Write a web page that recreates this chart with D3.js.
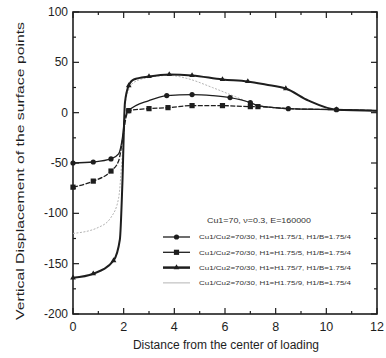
<!DOCTYPE html>
<html>
<head>
<meta charset="utf-8">
<script src="https://cdn.jsdelivr.net/npm/d3@7"></script>
<style>
  body { margin: 0; background: #fff; }
  svg { display: block; font-family: Arial, "Liberation Sans", sans-serif; }
</style>
</head>
<body>
<div id="chart"></div>
<script>
// values: [distance, displacement, hasMarker]
const seriesCircle = [
  [0, -50, 1], [0.8, -49, 1], [1.5, -46, 1], [1.8, -41, 0], [1.95, -25, 0], [2.05, -5, 0],
  [2.2, 2, 1], [3, 12, 0], [3.7, 17, 1], [4.7, 18, 1], [5.5, 17, 0], [6.2, 15, 1], [7, 10, 1],
  [7.3, 7, 0], [8.5, 4, 1], [10.4, 3, 1], [12, 2, 0]
];
const seriesSquare = [
  [0, -74, 1], [0.8, -68, 1], [1.5, -58, 1], [1.8, -48, 0], [1.95, -28, 0], [2.1, -4, 0],
  [2.2, 2, 1], [3, 4, 1], [3.75, 5, 1], [4.7, 7, 1], [5.9, 7, 1], [7, 6, 1], [7.3, 6, 1],
  [8.5, 4, 0], [10.4, 3, 0], [12, 2, 0]
];
const seriesDash = [
  [0, -164, 1], [0.8, -160, 1], [1.6, -147, 1], [1.85, -126, 0], [1.95, -70, 0], [2.05, 10, 0],
  [2.2, 27, 1], [2.4, 33, 0], [3, 36, 1], [3.8, 38, 1], [4.7, 37, 1], [5.9, 33, 1], [6.9, 31, 1],
  [7.6, 28, 0], [8.4, 24, 1], [9.3, 12, 0], [10.4, 3, 1], [12, 2, 0]
];
const seriesThin = [
  [0, -120, 0], [1, -114, 0], [1.5, -104, 0], [1.8, -85, 0], [1.95, -40, 0], [2.1, 15, 0],
  [2.4, 30, 0], [3, 35, 0], [3.8, 37, 0], [4.5, 34, 0], [5.5, 25, 0], [6.4, 16, 0], [7.2, 8, 0],
  [8.5, 4, 0], [10.4, 3, 0], [12, 2, 0]
];

const legendNote = 'Cu1=70, \u03bd=0.3, E=160000';
const legendLabels = [
  'Cu1/Cu2=70/30, H1=H1.75/1, H1/B=1.75/4',
  'Cu1/Cu2=70/30, H1=H1.75/5, H1/B=1.75/4',
  'Cu1/Cu2=70/30, H1=H1.75/7, H1/B=1.75/4',
  'Cu1/Cu2=70/30, H1=H1.75/9, H1/B=1.75/4'
];
const xTicks = [0, 2, 4, 6, 8, 10, 12];
const yTicks = [100, 50, 0, -50, -100, -150, -200];

const width = 386, height = 358;
const margin = {top: 12, right: 9, bottom: 44, left: 73};
const ink = '#1e1e1e';

const svg = d3.select('#chart').append('svg')
  .attr('width', width)
  .attr('height', height);

const x = d3.scaleLinear().domain([0, 12]).range([margin.left, width - margin.right]);
const y = d3.scaleLinear().domain([-200, 100]).range([height - margin.bottom, margin.top]);

// frame
svg.append('rect')
  .attr('x', x(0)).attr('y', y(100))
  .attr('width', x(12) - x(0)).attr('height', y(-200) - y(100))
  .attr('fill', 'none').attr('stroke', ink).attr('stroke-width', 1.6);

// inward ticks on all four sides
const ticks = svg.append('g').attr('stroke', ink).attr('stroke-width', 1.2);
d3.range(0, 12.01, 1).forEach(v => {
  const len = v % 2 === 0 ? 6 : 3;
  ticks.append('line').attr('x1', x(v)).attr('x2', x(v)).attr('y1', y(-200)).attr('y2', y(-200) - len);
  ticks.append('line').attr('x1', x(v)).attr('x2', x(v)).attr('y1', y(100)).attr('y2', y(100) + len);
});
d3.range(-200, 100.01, 25).forEach(v => {
  const len = v % 50 === 0 ? 6 : 3;
  ticks.append('line').attr('y1', y(v)).attr('y2', y(v)).attr('x1', x(0)).attr('x2', x(0) + len);
  ticks.append('line').attr('y1', y(v)).attr('y2', y(v)).attr('x1', x(12)).attr('x2', x(12) - len);
});

// tick labels
svg.append('g').selectAll('text').data(xTicks).join('text')
  .attr('x', d => x(d)).attr('y', height - margin.bottom + 17)
  .attr('text-anchor', 'middle').attr('font-size', 12.5).attr('fill', ink)
  .text(d => d);
svg.append('g').selectAll('text').data(yTicks).join('text')
  .attr('x', x(0) - 5).attr('y', d => y(d) + 4)
  .attr('text-anchor', 'end').attr('font-size', 12).attr('fill', ink)
  .text(d => d);

// axis titles
svg.append('text')
  .attr('x', 226).attr('y', 349)
  .attr('text-anchor', 'middle').attr('font-size', 12).attr('fill', ink)
  .text('Distance from the center of loading');
svg.append('text')
  .attr('transform', `translate(24,${(y(100) + y(-200)) / 2 + 8}) rotate(-90)`)
  .attr('text-anchor', 'middle').attr('font-size', 11.5).attr('fill', ink)
  .attr('textLength', 298).attr('lengthAdjust', 'spacingAndGlyphs')
  .text('Vertical Displacement of the surface points');

const line = d3.line()
  .x(d => x(d[0]))
  .y(d => y(d[1]))
  .curve(d3.curveMonotoneX);

const styles = [
  {data: seriesCircle, stroke: ink, width: 1.3, dash: null, marker: 'circle'},
  {data: seriesSquare, stroke: ink, width: 1.3, dash: '5,1.5', marker: 'square'},
  {data: seriesDash, stroke: ink, width: 2, dash: null, marker: 'tri'},
  {data: seriesThin, stroke: '#b4b4b4', width: 1, dash: '2,1.5', marker: null}
];

function drawMarker(g, type, cx, cy) {
  if (type === 'circle') {
    g.append('circle').attr('cx', cx).attr('cy', cy).attr('r', 2.6).attr('fill', ink);
  } else if (type === 'square') {
    g.append('rect').attr('x', cx - 2.6).attr('y', cy - 2.6).attr('width', 5.2).attr('height', 5.2).attr('fill', ink);
  } else if (type === 'tri') {
    g.append('path').attr('d', d3.symbol(d3.symbolTriangle, 14)()).attr('transform', `translate(${cx},${cy})`).attr('fill', ink);
  }
}

// draw thin gray first so the others sit on top
[3, 0, 1, 2].forEach(i => {
  const s = styles[i];
  const g = svg.append('g');
  g.append('path')
    .datum(s.data)
    .attr('d', line)
    .attr('fill', 'none')
    .attr('stroke', s.stroke)
    .attr('stroke-width', s.width)
    .attr('stroke-dasharray', s.dash);
  if (s.marker) {
    s.data.filter(d => d[2]).forEach(d => drawMarker(g, s.marker, x(d[0]), y(d[1])));
  }
});

// legend
const lg = svg.append('g').attr('fill', '#333');
lg.append('text')
  .attr('x', 207).attr('y', 223)
  .attr('font-size', 6.5)
  .attr('textLength', 104).attr('lengthAdjust', 'spacingAndGlyphs')
  .text(legendNote);
legendLabels.forEach((label, i) => {
  const ly = 237 + i * 15.3;
  const s = styles[i];
  lg.append('line')
    .attr('x1', 163).attr('x2', 190).attr('y1', ly).attr('y2', ly)
    .attr('stroke', s.stroke).attr('stroke-width', s.width + (i === 2 ? 0.5 : 0));
  if (s.marker) drawMarker(lg, s.marker, 176.5, ly);
  lg.append('text')
    .attr('x', 199).attr('y', ly + 2.2)
    .attr('font-size', 6.2)
    .attr('textLength', 152).attr('lengthAdjust', 'spacingAndGlyphs')
    .text(label);
});
</script>
</body>
</html>
